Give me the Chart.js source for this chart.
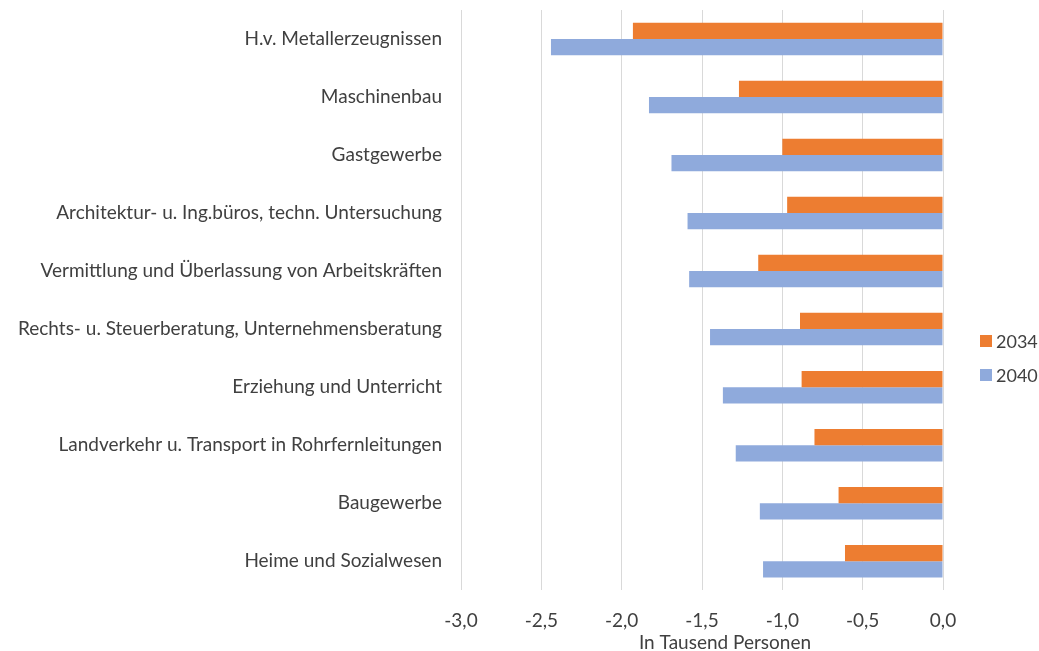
<!DOCTYPE html>
<html>
<head>
<meta charset="utf-8">
<script src="https://cdn.jsdelivr.net/npm/chart.js@4.4.1/dist/chart.umd.min.js"></script>
<style>
  html, body { margin: 0; padding: 0; background: #fff; }
  #wrap { width: 1039px; height: 651px; position: relative; }
</style>
</head>
<body>
<div id="wrap"><canvas id="chart"></canvas></div>
<script>
// Branchen (top to bottom)
const categories = [
    'H.v. Metallerzeugnissen',
    'Maschinenbau',
    'Gastgewerbe',
    'Architektur- u. Ing.büros, techn. Untersuchung',
    'Vermittlung und Überlassung von Arbeitskräften',
    'Rechts- u. Steuerberatung, Unternehmensberatung',
    'Erziehung und Unterricht',
    'Landverkehr u. Transport in Rohrfernleitungen',
    'Baugewerbe',
    'Heime und Sozialwesen'
];

const seriesLabels = ['2034', '2040'];
const values2034 = [-1.93, -1.27, -1.00, -0.97, -1.15, -0.89, -0.88, -0.80, -0.65, -0.61];
const values2040 = [-2.44, -1.83, -1.69, -1.59, -1.58, -1.45, -1.37, -1.29, -1.14, -1.12];

const xMin = -3.0;
const xMax = 0.0;
const xStep = 0.5;
const axisTitle = 'In Tausend Personen';

const FONT = 'Lato, "Liberation Sans", sans-serif';
const TEXT = '#404040';

// axis title, a bit right of the plot centre like the original
const axisTitlePlugin = {
    id: 'axisTitle',
    afterDraw(chart) {
        const { ctx, chartArea } = chart;
        ctx.save();
        ctx.font = '19px ' + FONT;
        ctx.fillStyle = TEXT;
        ctx.textAlign = 'center';
        ctx.textBaseline = 'middle';
        ctx.fillText(axisTitle, (chartArea.left + chartArea.right) / 2 + 23, 643);
        ctx.restore();
    }
};

// legend on the right, lower than centre
const sideLegendPlugin = {
    id: 'sideLegend',
    afterDraw(chart) {
        const { ctx, chartArea } = chart;
        ctx.save();
        ctx.font = '18px ' + FONT;
        ctx.textAlign = 'left';
        ctx.textBaseline = 'middle';
        chart.data.datasets.forEach((ds, i) => {
            const y = 341 + i * 34;
            ctx.fillStyle = ds.backgroundColor;
            ctx.fillRect(chartArea.right + 37, y - 6, 12, 12);
            ctx.fillStyle = TEXT;
            ctx.fillText(ds.label, chartArea.right + 53, y + 1);
        });
        ctx.restore();
    }
};

new Chart(document.getElementById('chart'), {
    type: 'bar',
    data: {
        labels: categories,
        datasets: [{
            label: seriesLabels[0],
            data: values2034,
            backgroundColor: '#ED7D31',
            barPercentage: 1.0,
            categoryPercentage: 0.56
        }, {
            label: seriesLabels[1],
            data: values2040,
            backgroundColor: '#8FAADC',
            barPercentage: 1.0,
            categoryPercentage: 0.56
        }]
    },
    options: {
        indexAxis: 'y',
        responsive: true,
        maintainAspectRatio: false,
        animation: false,
        layout: {
            padding: { top: 10, right: 96, bottom: 0, left: 0 }
        },
        plugins: {
            legend: { display: false },
            tooltip: { enabled: false }
        },
        scales: {
            x: {
                min: xMin,
                max: xMax,
                ticks: {
                    stepSize: xStep,
                    padding: 19,
                    color: TEXT,
                    font: { family: FONT, size: 19 },
                    callback: v => v.toFixed(1).replace('.', ',')
                },
                grid: {
                    color: '#d9d9d9',
                    lineWidth: 1,
                    drawTicks: false
                },
                border: { display: false }
            },
            y: {
                afterFit(scale) {
                    scale.width = 461;
                    scale.paddingTop = 0;
                    scale.paddingBottom = 0;
                },
                ticks: {
                    padding: 19,
                    color: TEXT,
                    font: { family: FONT, size: 19 }
                },
                grid: { display: false, drawTicks: false },
                border: { display: false }
            }
        }
    },
    plugins: [axisTitlePlugin, sideLegendPlugin]
});
</script>
</body>
</html>
